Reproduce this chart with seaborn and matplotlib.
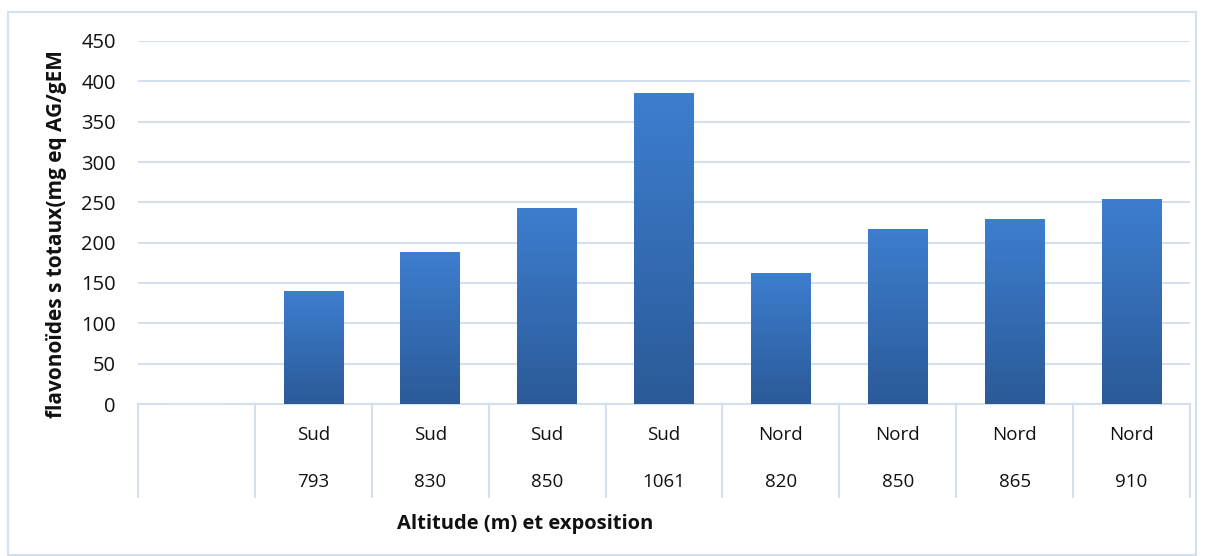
import numpy as np
import pandas as pd
import matplotlib.pyplot as plt
import seaborn as sns
from matplotlib.colors import LinearSegmentedColormap

# data
expositions = ["", "Sud", "Sud", "Sud", "Sud", "Nord", "Nord", "Nord", "Nord"]
altitudes = ["", "793", "830", "850", "1061", "820", "850", "865", "910"]
flavonoides = [0, 140, 188, 243, 385, 162, 217, 229, 254]

GRID = "#D5E0EF"
TOP_COLOR = "#3D7ECF"
BOTTOM_COLOR = "#2B5A98"

sns.set_theme(style="white")
plt.rcParams['font.family'] = ['Open Sans', 'DejaVu Sans']

df = pd.DataFrame({
    "cat": [str(i) for i in range(len(flavonoides))],
    "val": flavonoides,
})

fig = plt.figure(figsize=(12.08, 5.56), dpi=100)
ax = fig.add_axes([138 / 1208, 1 - 404 / 556, (1190 - 138) / 1208, (404 - 41) / 556])

sns.barplot(data=df, x="cat", y="val", color=TOP_COLOR, width=0.51, ax=ax,
            saturation=1, zorder=3)

# vertical gradient in each bar (dark at the bottom, light at the top)
cmap = LinearSegmentedColormap.from_list("bar", [BOTTOM_COLOR, TOP_COLOR])
grad = np.linspace(0, 1, 256).reshape(-1, 1)
for patch in ax.patches:
    x0, y0 = patch.get_x(), patch.get_y()
    w, h = patch.get_width(), patch.get_height()
    if h <= 0:
        continue
    patch.set_facecolor("none")
    patch.set_edgecolor("none")
    im = ax.imshow(grad, cmap=cmap, origin="lower", aspect="auto",
                   extent=[x0, x0 + w, y0, y0 + h], zorder=3)
    im.set_clip_path(patch)

n = len(flavonoides)
ax.set_xlim(-0.5, n - 0.5)
ax.set_ylim(0, 450)
ax.set_yticks(np.arange(0, 451, 50))
ax.tick_params(axis="y", labelsize=14.5, colors="#111111", length=0, pad=16)
ax.set_xticks([])
ax.set_xlabel("")
ax.set_ylabel("")
ax.yaxis.grid(True, color=GRID, linewidth=1.5, zorder=0)
ax.set_axisbelow(True)
for side in ["top", "right", "left"]:
    ax.spines[side].set_visible(False)
ax.spines["bottom"].set_color(GRID)
ax.spines["bottom"].set_linewidth(1.5)

# multi-level category axis: separators and two rows of labels
trans = ax.get_xaxis_transform()
sep_bottom = -(497 - 404) / (404 - 41)
for i in range(n + 1):
    ax.plot([i - 0.5, i - 0.5], [0, sep_bottom], transform=trans, color=GRID,
            linewidth=1.5, clip_on=False)
row1 = -(435 - 404) / (404 - 41)
row2 = -(482 - 404) / (404 - 41)
for i in range(n):
    ax.text(i, row1, expositions[i], transform=trans, ha="center", va="center",
            fontsize=13.5, color="#111111")
    ax.text(i, row2, altitudes[i], transform=trans, ha="center", va="center",
            fontsize=13.5, color="#111111")

fig.text(525 / 1208, 1 - 524 / 556, "Altitude (m) et exposition", ha="center",
         va="center", fontsize=14.5, fontweight="bold", color="#111111")
fig.text(57 / 1208, 1 - 234 / 556, "flavonoïdes s totaux(mg eq AG/gEM",
         rotation=90, ha="center", va="center", fontsize=15, fontweight="bold",
         color="#111111")

# light outer frame
frame = plt.Rectangle((8 / 1208, 1 / 556), 1188 / 1208, 1 - 13 / 556,
                      transform=fig.transFigure, fill=False, edgecolor=GRID,
                      linewidth=1.5)
fig.patches.append(frame)

fig.savefig("out.png", dpi=100)
